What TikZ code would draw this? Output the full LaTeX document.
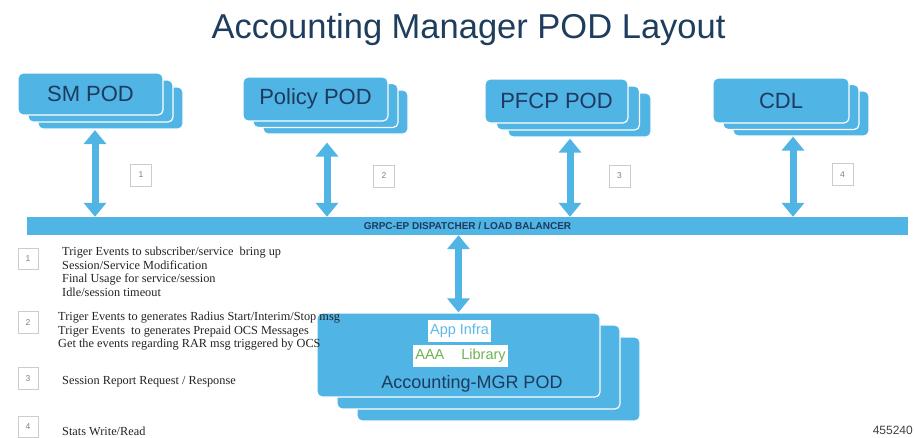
\documentclass[tikz,border=0pt]{standalone}
\usepackage{fontspec}
\setmainfont{Liberation Serif}
\newfontfamily\ciscosans{Liberation Sans}
\usetikzlibrary{arrows.meta}
\definecolor{podblue}{RGB}{80,180,228}
\definecolor{podtext}{RGB}{30,58,95}
\definecolor{titleblue}{RGB}{31,61,92}
\definecolor{infrablue}{RGB}{95,185,232}
\definecolor{libgreen}{RGB}{112,178,84}
\definecolor{legendtext}{RGB}{35,35,35}
\tikzset{
  pod/.style={rectangle, rounded corners=5pt, fill=podblue, draw=white, line width=1.2pt,
    inner sep=0pt, font=\ciscosans\fontsize{22}{24}\selectfont, text=podtext},
  numbox/.style={draw=gray!40, fill=white, line width=0.7pt, minimum width=21pt,
    minimum height=22pt, inner sep=0pt, font=\ciscosans\fontsize{8.5}{9}\selectfont, text=gray},
  bigarrow/.style={draw=podblue, line width=7pt,
    {Triangle[width=22pt,length=14pt]}-{Triangle[width=22pt,length=14pt]}},
  legendline/.style={anchor=base west, inner sep=0pt,
    font=\fontsize{12.3}{13.6}\selectfont, text=legendtext},
  whitelabel/.style={fill=white, inner sep=0pt, font=\ciscosans\fontsize{14.5}{16}\selectfont}
}
\begin{document}
\begin{tikzpicture}[x=1pt,y=-1pt]
\useasboundingbox (0,0) rectangle (914,437);

% title
\node[anchor=base, inner sep=0pt, font=\ciscosans\fontsize{34.5}{40}\selectfont, text=titleblue]
  (title) at (468.5,38) {Accounting Manager POD Layout};

% SM POD stack
\node[pod, minimum width=145pt, minimum height=42pt] (sm3) at (110.5,108) {};
\node[pod, minimum width=145pt, minimum height=42pt] (sm2) at (100.5,101) {};
\node[pod, minimum width=145pt, minimum height=42pt] (sm) at (90.5,94) {SM POD};

% Policy POD stack
\node[pod, minimum width=145pt, minimum height=44pt] (pol3) at (335.5,112) {};
\node[pod, minimum width=145pt, minimum height=44pt] (pol2) at (325.5,105.5) {};
\node[pod, minimum width=145pt, minimum height=44pt] (pol) at (315.5,99) {Policy POD};

% PFCP POD stack
\node[pod, minimum width=143pt, minimum height=44pt] (pfcp3) at (579.5,115) {};
\node[pod, minimum width=143pt, minimum height=44pt] (pfcp2) at (568,108) {};
\node[pod, minimum width=143pt, minimum height=44pt] (pfcp) at (556.5,101) {PFCP POD};

% CDL stack
\node[pod, minimum width=136pt, minimum height=45pt] (cdl3) at (801,113.5) {};
\node[pod, minimum width=136pt, minimum height=45pt] (cdl2) at (791,107) {};
\node[pod, minimum width=136pt, minimum height=45pt] (cdl) at (781,100.5) {CDL};

% dispatcher bar
\node[rectangle, fill=podblue, minimum width=881pt, minimum height=18pt, inner sep=0pt,
  font=\ciscosans\bfseries\fontsize{10}{10}\selectfont, text=podtext]
  (bar) at (467.5,226) {GRPC-EP DISPATCHER / LOAD BALANCER};

% arrows to bar
\coordinate (a1) at ([xshift=-15.5pt,yshift=-0.5pt]sm3.south);
\coordinate (a2) at ([xshift=-8.5pt,yshift=-8pt]pol3.south);
\coordinate (a3) at ([xshift=-9.5pt,yshift=-1pt]pfcp3.south);
\coordinate (a4) at ([xshift=-8pt]cdl3.south);
\draw[bigarrow] (a1) -- (a1 |- bar.north);
\draw[bigarrow] (a2) -- (a2 |- bar.north);
\draw[bigarrow] (a3) -- (a3 |- bar.north);
\draw[bigarrow] (a4) -- (a4 |- bar.north);

% numbered boxes near arrows
\node[numbox] (n1) at (141,175) {1};
\node[numbox] (n2) at (384,176) {2};
\node[numbox] (n3) at (619.5,176) {3};
\node[numbox] (n4) at (842.5,174.5) {4};

% Accounting-MGR POD stack
\node[pod, minimum width=283pt, minimum height=84pt] (acc3) at (498.5,379) {};
\node[pod, minimum width=283pt, minimum height=84pt] (acc2) at (478.5,367) {};
\node[pod, minimum width=283pt, minimum height=84pt] (acc) at (458.5,355) {};
\node[whitelabel, minimum width=63pt, minimum height=22pt, text=infrablue]
  (infra) at (459.5,331) {App Infra};
\node[whitelabel, minimum width=95pt, minimum height=22pt, text=libgreen]
  (aaa) at (460.5,356) {AAA\hspace{17pt}Library};
\node[anchor=base, inner sep=0pt, font=\ciscosans\fontsize{18}{20}\selectfont, text=podtext]
  (acctext) at (472,388) {Accounting-MGR POD};

\draw[bigarrow] (bar.south -| acc.north) -- (acc.north);

% legend
\node[numbox, minimum width=20pt, minimum height=21pt] (l1) at (28,258.5) {1};
\node[numbox, minimum width=20pt, minimum height=22pt] (l2) at (28,322.5) {2};
\node[numbox, minimum width=20pt, minimum height=22pt] (l3) at (28,378.5) {3};
\node[numbox, minimum width=20pt, minimum height=21pt] (l4) at (28,427) {4};

\node[legendline] (t1a) at (62,255.5) {Triger Events to subscriber/service\ \ bring up};
\node[legendline] (t1b) at (62,269.2) {Session/Service Modification};
\node[legendline] (t1c) at (62,282.8) {Final Usage for service/session};
\node[legendline] (t1d) at (62,296.5) {Idle/session timeout};

\node[legendline] (t2a) at (58,320.5) {Triger Events to generates Radius Start/Interim/Stop msg};
\node[legendline] (t2b) at (58,334) {Triger Events\ \ to generates Prepaid OCS Messages};
\node[legendline] (t2c) at (58,347) {Get the events regarding RAR msg triggered by OCS};

\node[legendline] (t3) at (62,384.5) {Session Report Request / Response};
\node[legendline] (t4) at (62,435) {Stats Write/Read};

\node[anchor=base east, inner sep=0pt, font=\ciscosans\fontsize{12}{13}\selectfont, text=black!75]
  (fig) at (913,434) {455240};
\end{tikzpicture}
\end{document}
